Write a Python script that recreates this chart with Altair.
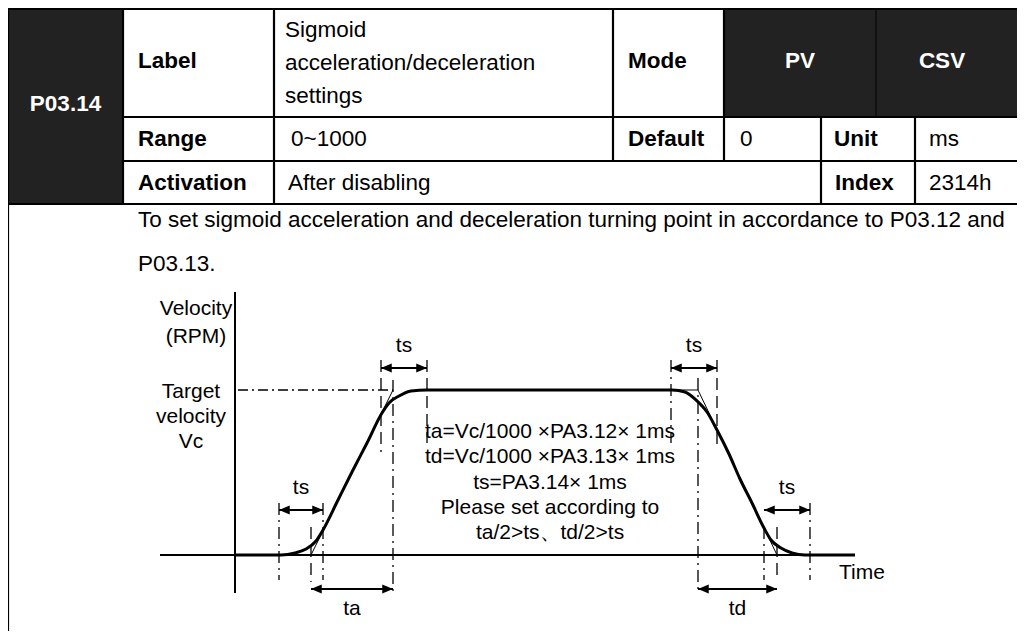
import altair as alt
import pandas as pd

# ---------------- content ----------------
param_id = "P03.14"
row_heads = ["Label", "Range", "Activation"]
label_lines = ["Sigmoid", "acceleration/deceleration", "settings"]
range_text = "0~1000"
activation_text = "After disabling"
mode_head = "Mode"
modes = ["PV", "CSV"]
default_head, default_value = "Default", "0"
unit_head, unit_value = "Unit", "ms"
index_head, index_value = "Index", "2314h"
description = [
    "To set sigmoid acceleration and deceleration turning point in accordance to P03.12 and",
    "P03.13.",
]

y_axis_title = ["Velocity", "(RPM)"]
target_title = ["Target", "velocity", "Vc"]
x_axis_title = "Time"
formula_lines = [
    "ta=Vc/1000 \u00d7PA3.12\u00d7 1ms",
    "td=Vc/1000 \u00d7PA3.13\u00d7 1ms",
    "ts=PA3.14\u00d7 1ms",
    "Please set according to",
    "ta/2>ts\u3001td/2>ts",
]

# velocity profile: time / velocity (diagram units)
profile_t = [235, 281, 295, 306, 316, 323, 338, 352, 367, 382, 389, 399, 411, 427,
             672, 685, 696, 707, 717, 729, 740, 752, 764, 771, 781, 792, 805, 855]
profile_v = [555, 555, 553, 549, 541, 530, 500, 472, 443, 413, 403, 396, 391, 390,
             390, 392, 400, 412, 430, 454, 479, 503, 528, 540, 548, 553, 555, 555]

# ideal trapezoid (thin lines)
ramp_t = [[311, 393], [698, 777], [672, 698]]
ramp_v = [[555, 390], [390, 555], [390, 390]]

# guide lines
guide_t = [279, 311, 323, 381, 393, 427, 671, 698, 717, 764, 777, 810]
guide_top = [503, 527, 503, 360, 380, 360, 360, 378, 360, 527, 527, 503]
guide_bot = [580, 582, 580, 452, 592, 443, 443, 593, 445, 580, 580, 580]
guide_kind = ["dashdot", "dash", "dashdot", "dash", "dashdot", "dash",
              "dashdot", "dashdot", "dash", "dashdot", "dash", "dashdot"]

# dimension arrows
arrow_names = ["ts", "ts", "ts", "ts", "ta", "td"]
arrow_t1 = [381, 671, 279, 764, 311, 698]
arrow_t2 = [427, 717, 323, 810, 393, 777]
arrow_level = [368, 368, 510, 510, 589, 589]

# ---------------- layout ----------------
W, H = 1009, 623
X0, Y0 = 8, 8
FONT = "Liberation Sans"
TFS = 22.5   # table font size
DFS = 21     # diagram font size
col = [8, 123, 274, 613, 724, 821, 876, 915, 1025]
row = [9, 117, 161, 204]
axis_t, axis_top, axis_bot = 235, 292, 593
base_v, target_v = 555, 390
time_start, time_end = 160, 855


def X(f):
    return alt.X(f, type="quantitative", axis=None,
                 scale=alt.Scale(domain=[X0, X0 + W], nice=False, zero=False))


def Y(f):
    return alt.Y(f, type="quantitative", axis=None,
                 scale=alt.Scale(domain=[Y0, Y0 + H], nice=False, zero=False, reverse=True))


def X2(f):
    return alt.X2(f)


def Y2(f):
    return alt.Y2(f)


# ---------- table ----------
dark = pd.DataFrame([
    dict(x=col[0], x2=col[1], y=row[0] - 2, y2=row[3]),
    dict(x=col[4], x2=col[6], y=row[0] - 2, y2=row[1]),
    dict(x=col[6], x2=col[8], y=row[0] - 2, y2=row[1]),
])
dark_layer = alt.Chart(dark).mark_rect(color="#222222").encode(
    x=X("x"), x2=X2("x2"), y=Y("y"), y2=Y2("y2"))

hlines = [
    (col[0], col[8], row[0]),
    (col[1], col[8], row[1]),
    (col[1], col[8], row[2]),
    (col[0], col[8], row[3]),
]
vlines = [
    (col[0], row[0], Y0 + H),
    (col[1], row[0], row[3]),
    (col[2], row[0], row[3]),
    (col[3], row[0], row[2]),
    (col[4], row[0], row[2]),
    (col[5], row[1], row[3]),
    (col[7], row[1], row[3]),
]
tl = [dict(x=a, x2=b, y=c, y2=c) for a, b, c in hlines] + \
     [dict(x=a, x2=a, y=b, y2=c) for a, b, c in vlines]
table_lines = alt.Chart(pd.DataFrame(tl)).mark_rule(color="black", strokeWidth=2.2).encode(
    x=X("x"), x2=X2("x2"), y=Y("y"), y2=Y2("y2"))
pv_div = alt.Chart(pd.DataFrame([dict(x=col[6], y=row[0], y2=row[1])])).mark_rule(
    color="#111111", strokeWidth=2).encode(x=X("x"), y=Y("y"), y2=Y2("y2"))

mid = [61, (row[1] + row[2]) / 2, (row[2] + row[3]) / 2]
pad = 15
cells = []
for i, h in enumerate(row_heads):
    cells.append(dict(t=h, x=col[1] + pad, y=mid[i], kind="bold"))
for i, ln in enumerate(label_lines):
    cells.append(dict(t=ln, x=col[2] + 11, y=row[0] + 21 + i * 33, kind="norm"))
cells += [
    dict(t=range_text, x=col[2] + 17, y=mid[1], kind="norm"),
    dict(t=activation_text, x=col[2] + 14, y=mid[2], kind="norm"),
    dict(t=mode_head, x=col[3] + 15, y=mid[0], kind="bold"),
    dict(t=default_head, x=col[3] + 15, y=mid[1], kind="bold"),
    dict(t=default_value, x=col[4] + 16, y=mid[1], kind="norm"),
    dict(t=unit_head, x=col[5] + 13, y=mid[1], kind="bold"),
    dict(t=unit_value, x=col[7] + 14, y=mid[1], kind="norm"),
    dict(t=index_head, x=col[5] + 14, y=mid[2], kind="bold"),
    dict(t=index_value, x=col[7] + 14, y=mid[2], kind="norm"),
]
for i, d in enumerate(description):
    cells.append(dict(t=d, x=col[1] + pad, y=row[3] + 16 + i * 44, kind="norm"))
cells = pd.DataFrame(cells)

white = pd.DataFrame([
    dict(t=param_id, x=(col[0] + col[1]) / 2, y=104),
    dict(t=modes[0], x=800, y=mid[0]),
    dict(t=modes[1], x=942, y=mid[0]),
])

bold_text = alt.Chart(cells[cells.kind == "bold"]).mark_text(
    font=FONT, fontSize=TFS, fontWeight="bold", align="left", baseline="middle", color="black"
).encode(x=X("x"), y=Y("y"), text="t:N")
norm_text = alt.Chart(cells[cells.kind == "norm"]).mark_text(
    font=FONT, fontSize=TFS, align="left", baseline="middle", color="black"
).encode(x=X("x"), y=Y("y"), text="t:N")
white_text = alt.Chart(white).mark_text(
    font=FONT, fontSize=TFS, fontWeight="bold", align="center", baseline="middle", color="white"
).encode(x=X("x"), y=Y("y"), text="t:N")

# ---------- diagram ----------
axes = pd.DataFrame([
    dict(x=time_start, x2=time_end, y=base_v, y2=base_v),
    dict(x=axis_t, x2=axis_t, y=axis_top, y2=axis_bot),
])
axes_layer = alt.Chart(axes).mark_rule(color="black", strokeWidth=2).encode(
    x=X("x"), x2=X2("x2"), y=Y("y"), y2=Y2("y2"))

target_line = alt.Chart(pd.DataFrame([dict(x=axis_t + 3, x2=393, y=target_v)])).mark_rule(
    color="black", strokeWidth=1.3, strokeDash=[10, 4, 2, 4]).encode(
    x=X("x"), x2=X2("x2"), y=Y("y"))

g = pd.DataFrame(dict(x=guide_t, y=guide_top, y2=guide_bot, k=guide_kind))
guide_dd = alt.Chart(g[g.k == "dashdot"]).mark_rule(
    color="black", strokeWidth=1.3, strokeDash=[12, 5, 2, 5]).encode(
    x=X("x"), y=Y("y"), y2=Y2("y2"))
guide_d = alt.Chart(g[g.k == "dash"]).mark_rule(
    color="black", strokeWidth=1.3, strokeDash=[12, 6]).encode(
    x=X("x"), y=Y("y"), y2=Y2("y2"))

ramps = pd.DataFrame([dict(x=a[0], x2=a[1], y=b[0], y2=b[1]) for a, b in zip(ramp_t, ramp_v)])
ramp_layer = alt.Chart(ramps).mark_rule(color="black", strokeWidth=1).encode(
    x=X("x"), x2=X2("x2"), y=Y("y"), y2=Y2("y2"))

prof = pd.DataFrame(dict(t=profile_t, v=profile_v, o=range(len(profile_t))))
profile_layer = alt.Chart(prof).mark_line(
    color="black", strokeWidth=3, interpolate="monotone").encode(
    x=X("t"), y=Y("v"), order="o:Q")

arr = pd.DataFrame(dict(n=arrow_names, x=arrow_t1, x2=arrow_t2, y=arrow_level))
shafts = alt.Chart(arr).mark_rule(color="black", strokeWidth=2).encode(
    x=X("x"), x2=X2("x2"), y=Y("y"))
head_left = alt.Chart(arr).mark_point(
    shape="M0,0L1,-0.42L1,0.42Z", filled=True, color="black", size=460, opacity=1
).encode(x=X("x"), y=Y("y"))
head_right = alt.Chart(arr).mark_point(
    shape="M0,0L-1,-0.42L-1,0.42Z", filled=True, color="black", size=460, opacity=1
).encode(x=X("x2"), y=Y("y"))
arr["cx"] = (arr.x + arr.x2) / 2
arr["ly"] = arr.y + arr.n.map(lambda s: -22 if s == "ts" else 20)
arrow_text = alt.Chart(arr).mark_text(
    font=FONT, fontSize=DFS, align="center", baseline="middle", color="black"
).encode(x=X("cx"), y=Y("ly"), text="n:N")

dtext = []
for i, s in enumerate(y_axis_title):
    dtext.append(dict(t=s, x=196, y=309 + i * 28))
for i, s in enumerate(target_title):
    dtext.append(dict(t=s, x=191, y=392 + i * 25))
dtext.append(dict(t=x_axis_title, x=862, y=573))
for i, s in enumerate(formula_lines):
    dtext.append(dict(t=s, x=550, y=432 + i * 25.3))
diag_text = alt.Chart(pd.DataFrame(dtext)).mark_text(
    font=FONT, fontSize=DFS, align="center", baseline="middle", color="black"
).encode(x=X("x"), y=Y("y"), text="t:N")

chart = alt.layer(
    dark_layer, pv_div, table_lines, bold_text, norm_text, white_text,
    target_line, guide_dd, guide_d, ramp_layer, axes_layer, profile_layer,
    shafts, head_left, head_right, arrow_text, diag_text,
).properties(
    width=W, height=H, padding=0,
    autosize=alt.AutoSizeParams(type="none"),
).configure_view(stroke=None).configure(background="white")

chart.save("out.html", embed_options={"renderer": "svg", "actions": False})
